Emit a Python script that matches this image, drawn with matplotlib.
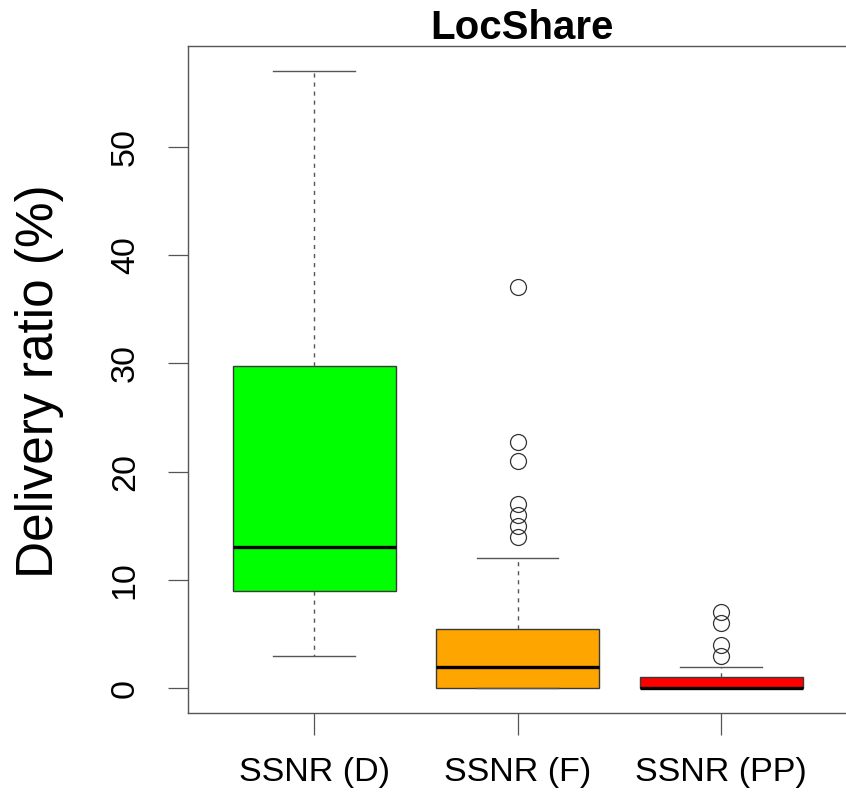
import matplotlib
matplotlib.use("Agg")
import matplotlib.pyplot as plt

# ---- data ----
categories = ["SSNR (D)", "SSNR (F)", "SSNR (PP)"]
whisker_low = [3, 0, 0]
q1 = [9, 0, 0]
medians = [13, 2, 0]
q3 = [29.7, 5.5, 1]
whisker_high = [57, 12, 2]
outliers = [
    [],
    [37, 22.7, 21, 17, 16, 15, 14],
    [7, 6, 4, 3],
]
box_colors = ["#00FF00", "#FFA500", "#FF0000"]
y_ticks = [0, 10, 20, 30, 40, 50]
title = "LocShare"
ylabel = "Delivery ratio (%)"

plt.rcParams["font.family"] = ["Liberation Sans", "DejaVu Sans"]

W, H = 846, 794
fig = plt.figure(figsize=(W / 100, H / 100), dpi=100)
left, bottom, top = 188, 713, 46
unit = 203.5
xlo, xhi = 0.38, 3.62
ax_w = (xhi - xlo) * unit
ax = fig.add_axes([left / W, (H - bottom) / H, ax_w / W, (bottom - top) / H])

stats = []
for i, name in enumerate(categories):
    stats.append(dict(label=name, whislo=whisker_low[i], q1=q1[i], med=medians[i],
                      q3=q3[i], whishi=whisker_high[i], fliers=outliers[i]))

edge = "#3a3a3a"
bp = ax.bxp(stats, positions=[1, 2, 3], widths=0.8, patch_artist=True,
            showfliers=True,
            boxprops=dict(edgecolor=edge, linewidth=1.0),
            medianprops=dict(color="black", linewidth=2.4, solid_capstyle="butt"),
            whiskerprops=dict(color="#555555", linewidth=1.0, linestyle=(0, (3, 3.5))),
            capprops=dict(color="#555555", linewidth=1.0),
            flierprops=dict(marker="o", markersize=11.5, markerfacecolor="none",
                            markeredgecolor="#333333", markeredgewidth=0.9, linestyle="none"),
            capwidths=0.4)
for patch, c in zip(bp["boxes"], box_colors):
    patch.set_facecolor(c)

ax.set_xlim(xlo, xhi)
ax.set_ylim(-2.28, 59.28)
ax.set_yticks(y_ticks)
ax.set_yticklabels([str(v) for v in y_ticks], rotation=90, va="center", fontsize=24.5)
ax.set_xticks([1, 2, 3])
ax.set_xticklabels(categories, fontsize=24.5)

for s in ax.spines.values():
    s.set_color("#555555")
    s.set_linewidth(1.0)

ax.tick_params(axis="y", length=14.5, width=0.9, color="#555555", pad=19.5)
ax.tick_params(axis="x", length=16, width=0.9, color="#555555", pad=16)

fig.text(40 / W, 1 - 381 / H, ylabel, rotation=90, ha="center", va="center", fontsize=37)
fig.text(522 / W, 1 - 28 / H, title, ha="center", va="center", fontsize=29, fontweight="bold")

fig.savefig("out.png", dpi=100)
